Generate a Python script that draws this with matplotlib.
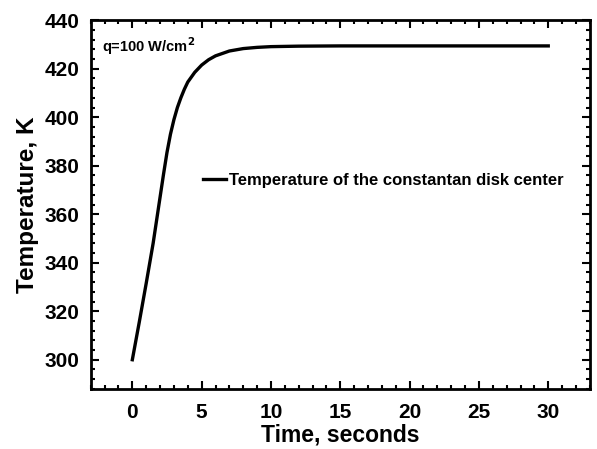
import matplotlib
matplotlib.use("Agg")
import matplotlib.pyplot as plt
from matplotlib.ticker import MultipleLocator

# centre temperature of the constantan disk
time_s = [0, 0.5, 1, 1.5, 2, 2.25, 2.5, 2.75, 3, 3.25, 3.5, 3.75, 4, 4.5, 5,
          5.5, 6, 7, 8, 9, 10, 12, 15, 20, 25, 30]
temp_k = [300, 315.5, 331.5, 348, 367, 376.5, 385.5, 393, 399, 404, 408, 411.5,
          414.5, 418.5, 421.5, 423.7, 425.3, 427.3, 428.3, 428.8, 429.1, 429.3,
          429.4, 429.4, 429.4, 429.4]

x_ticks = [0, 5, 10, 15, 20, 25, 30]
y_ticks = [300, 320, 340, 360, 380, 400, 420, 440]

plt.rcParams["font.family"] = ["Liberation Sans", "DejaVu Sans"]
plt.rcParams["font.weight"] = "bold"

fig = plt.figure(figsize=(5.97, 4.49), dpi=100)
ax = fig.add_axes([0.152, 0.134, 0.836, 0.821])

ax.plot(time_s, temp_k, color="black", linewidth=2.4,
        label="Temperature of the constantan disk center")

ax.set_xlim(-3, 33)
ax.set_ylim(288, 440)
ax.set_xticks(x_ticks)
ax.set_yticks(y_ticks)
ax.xaxis.set_minor_locator(MultipleLocator(1))
ax.yaxis.set_minor_locator(MultipleLocator(4))
ax.tick_params(which="both", direction="in", top=True, right=True, width=1.5)
ax.tick_params(which="major", length=6, labelsize=15)
ax.tick_params(axis="x", which="major", pad=10)
ax.tick_params(axis="y", which="major", pad=8)
ax.tick_params(which="minor", length=3)
for lbl in ax.get_xticklabels() + ax.get_yticklabels():
    lbl.set_fontweight("bold")
for sp in ax.spines.values():
    sp.set_linewidth(2)

ax.set_xlabel("Time, seconds", fontsize=16.5, fontweight="bold", labelpad=1)
ax.set_ylabel("Temperature, K", fontsize=17.5, fontweight="bold", labelpad=4)

ax.text(0.023, 0.93, "q=100 W/cm$^\\mathbf{2}$", transform=ax.transAxes,
        fontsize=10.5, fontweight="bold", va="center", ha="left")

ax.legend(loc="center left", bbox_to_anchor=(0.224, 0.566), frameon=False,
          borderpad=0, borderaxespad=0, handlelength=1.4, handletextpad=0.2,
          prop={"size": 12, "weight": "bold"})

fig.savefig("out.png", dpi=100)
